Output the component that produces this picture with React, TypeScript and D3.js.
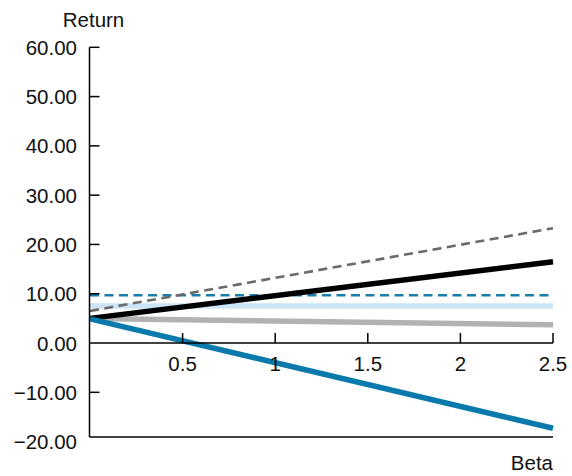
import React from "react";
import * as d3 from "d3";

const betas = [0, 2.5];
const blackLine = [5.0, 16.5];
const grayDashed = [6.5, 23.3];
const blueDashed = [9.7, 9.7];
const lightBlue = [7.5, 7.5];
const grayThick = [5.0, 3.7];
const blueThick = [4.9, -17.3];

const yTicks = [60, 50, 40, 30, 20, 10, 0, -10, -20];
const yTickMarks = [60, 50, 40, 30, 20, 10, -10];
const xTicks = [0.5, 1, 1.5, 2, 2.5];

export default function App() {
  const W = 572, H = 476;
  const x = d3.scaleLinear().domain([0, 2.5]).range([90, 553]);
  const y = d3.scaleLinear().domain([-20, 60]).range([441.6, 47.3]);
  const frameBottom = 437;
  const axisX = 89.5;
  const font = "'Liberation Sans', Arial, Helvetica, sans-serif";
  const fs = 20.5;
  const line = (vals: number[]) =>
    d3.line<number>().x((_, i) => x(betas[i])).y((d) => y(d))(vals) as string;

  const series = [
    { v: lightBlue, c: "#cce4f5", w: 5.5, dash: "" },
    { v: grayThick, c: "#b2b2b2", w: 5.5, dash: "" },
    { v: blueDashed, c: "#1a7db0", w: 2.6, dash: "9 5.5" },
    { v: grayDashed, c: "#6a6a6a", w: 2.6, dash: "9 5.5" },
    { v: blackLine, c: "#000000", w: 5.5, dash: "" },
    { v: blueThick, c: "#0a79ab", w: 5.5, dash: "" },
  ];

  return (
    <svg width={W} height={H} style={{ position: "absolute", left: 0, top: 0 }} fontFamily={font}>
      <rect width={W} height={H} fill="#fff" />
      {series.map((s, i) => (
        <path key={i} d={line(s.v)} fill="none" stroke={s.c} strokeWidth={s.w}
          strokeDasharray={s.dash || undefined} />
      ))}
      <line x1={axisX} x2={axisX} y1={y(60)} y2={frameBottom} stroke="#000" strokeWidth={1.5} />
      <line x1={axisX} x2={x(2.5)} y1={frameBottom} y2={frameBottom} stroke="#000" strokeWidth={1.5} />
      <line x1={axisX} x2={x(2.5)} y1={y(0)} y2={y(0)} stroke="#000" strokeWidth={1.5} />
      {yTickMarks.map((t) => (
        <line key={t} x1={axisX} x2={axisX + 10} y1={y(t)} y2={y(t)} stroke="#000" strokeWidth={1.5} />
      ))}
      {yTicks.map((t) => (
        <text key={t} x={77} y={y(t) + 7.5} textAnchor="end" fontSize={fs} fill="#111">
          {t < 0 ? "\u2212" + Math.abs(t).toFixed(2) : t.toFixed(2)}
        </text>
      ))}
      {xTicks.map((t) => (
        <g key={t}>
          <line x1={x(t)} x2={x(t)} y1={y(0)} y2={y(0) - 10} stroke="#000" strokeWidth={1.5} />
          <text x={x(t)} y={371} textAnchor="middle" fontSize={fs} fill="#111">
            {String(t)}
          </text>
        </g>
      ))}
      <text x={93.5} y={27} textAnchor="middle" fontSize={fs} fill="#111">Return</text>
      <text x={553} y={470} textAnchor="end" fontSize={fs} fill="#111">Beta</text>
    </svg>
  );
}
